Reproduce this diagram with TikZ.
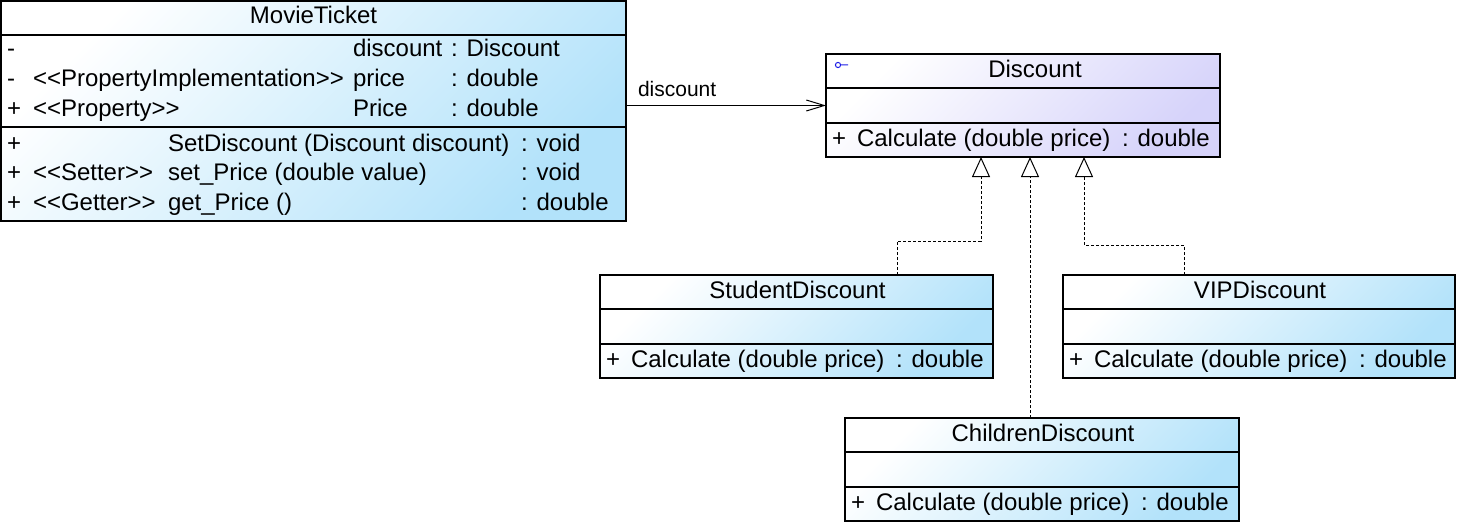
\documentclass[tikz,border=0pt]{standalone}
\usepackage{fontspec}
\setmainfont{Liberation Sans}[Ligatures=TeXOff]
\usetikzlibrary{arrows.meta,calc}
\definecolor{umlblue}{RGB}{178,226,250}
\definecolor{umllav}{RGB}{214,211,250}
\definecolor{iconblue}{RGB}{30,30,230}

% A small class box: name, x, y, width (px), title, fill colour, title x offset
\newcommand\umlclass[7]{%
  \node[cls, top color=white, bottom color=#6, shading angle=45,
        minimum width=#4*0.5pt, minimum height=51.5pt] (#1) at (#2,#3) {};
  \draw[sep] ($(#1.north west)+(0,34)$) -- ($(#1.north east)+(0,34)$);
  \draw[sep] ($(#1.north west)+(0,69)$) -- ($(#1.north east)+(0,69)$);
  \node[txt, anchor=base] (#1-title) at ($(#1.north)+(#7,23)$) {#5};
  \node[txt, anchor=base west] (#1-vis) at ($(#1.north west)+(6,92)$) {+};
  \node[txt, anchor=base west] (#1-op) at ($(#1.north west)+(31,92)$) {Calculate (double price)};
  \node[txt, anchor=base west] (#1-ret) at ($(#1.north west)+(296,92)$) {: double};
}

\begin{document}
\begin{tikzpicture}[x=0.5pt,y=-0.5pt,
  cls/.style={draw=black, line width=0.6pt, anchor=north west, inner sep=0pt, outer sep=0pt, rectangle},
  sep/.style={draw=black, line width=0.6pt},
  txt/.style={inner sep=0pt, outer sep=0pt, font=\fontsize{12}{14}\selectfont},
  lbl/.style={inner sep=0pt, outer sep=0pt, font=\fontsize{10.5}{12}\selectfont},
  assoc/.style={draw=black, line width=0.5pt, -{Straight Barb[length=9pt,width=5.5pt]}},
  real/.style={draw=black, line width=0.5pt, dash pattern=on 1.5pt off 1pt,
               -{Triangle[open, length=10pt, width=9pt, fill=white]}},
]
\useasboundingbox (0,0) rectangle (1459,524);

% MovieTicket class
\node[cls, top color=white, bottom color=umlblue, shading angle=45,
      minimum width=312.5pt, minimum height=110pt] (mt) at (1,1) {};
\draw[sep] ($(mt.north west)+(0,34)$) -- ($(mt.north east)+(0,34)$);
\draw[sep] ($(mt.north west)+(0,126)$) -- ($(mt.north east)+(0,126)$);
\node[txt, anchor=base] (mt-title) at ($(mt.north)+(0,23)$) {MovieTicket};

% attributes
\node[txt, anchor=base west] (mt-a1v) at ($(mt.north west)+(6,56)$) {-};
\node[txt, anchor=base west] (mt-a1n) at ($(mt.north west)+(352,56)$) {discount};
\node[txt, anchor=base west] (mt-a1t) at ($(mt.north west)+(450,56)$) {: Discount};

\node[txt, anchor=base west] (mt-a2v) at ($(mt.north west)+(6,85.5)$) {-};
\node[txt, anchor=base west] (mt-a2s) at ($(mt.north west)+(32,85.5)$) {<<PropertyImplementation>>};
\node[txt, anchor=base west] (mt-a2n) at ($(mt.north west)+(352,85.5)$) {price};
\node[txt, anchor=base west] (mt-a2t) at ($(mt.north west)+(450,85.5)$) {: double};

\node[txt, anchor=base west] (mt-a3v) at ($(mt.north west)+(6,115)$) {+};
\node[txt, anchor=base west] (mt-a3s) at ($(mt.north west)+(32,115)$) {<<Property>>};
\node[txt, anchor=base west] (mt-a3n) at ($(mt.north west)+(352,115)$) {Price};
\node[txt, anchor=base west] (mt-a3t) at ($(mt.north west)+(450,115)$) {: double};

% operations
\node[txt, anchor=base west] (mt-o1v) at ($(mt.north west)+(6,150)$) {+};
\node[txt, anchor=base west] (mt-o1n) at ($(mt.north west)+(167,150)$) {SetDiscount (Discount discount)};
\node[txt, anchor=base west] (mt-o1t) at ($(mt.north west)+(520,150)$) {: void};

\node[txt, anchor=base west] (mt-o2v) at ($(mt.north west)+(6,179.5)$) {+};
\node[txt, anchor=base west] (mt-o2s) at ($(mt.north west)+(32,179.5)$) {<<Setter>>};
\node[txt, anchor=base west] (mt-o2n) at ($(mt.north west)+(167,179.5)$) {set\_Price (double value)};
\node[txt, anchor=base west] (mt-o2t) at ($(mt.north west)+(520,179.5)$) {: void};

\node[txt, anchor=base west] (mt-o3v) at ($(mt.north west)+(6,209)$) {+};
\node[txt, anchor=base west] (mt-o3s) at ($(mt.north west)+(32,209)$) {<<Getter>>};
\node[txt, anchor=base west] (mt-o3n) at ($(mt.north west)+(167,209)$) {get\_Price ()};
\node[txt, anchor=base west] (mt-o3t) at ($(mt.north west)+(520,209)$) {: double};

% Discount interface and its implementations
\umlclass{disc}{826}{54}{394}{Discount}{umllav}{12}
\umlclass{stu}{600}{275}{393}{StudentDiscount}{umlblue}{1}
\umlclass{vip}{1063}{275}{392}{VIPDiscount}{umlblue}{1}
\umlclass{chi}{845}{418}{394}{ChildrenDiscount}{umlblue}{1}

% interface marker
\draw[iconblue, line width=0.5pt] ($(disc.north west)+(12,11)$) circle[radius=2.6]
      ($(disc.north west)+(14.6,11)$) -- ($(disc.north west)+(22,11)$);

% association
\draw[assoc] (mt.east |- disc.west) -- (disc.west)
  node[lbl, pos=0, anchor=base west, xshift=6pt, yshift=4.5pt] (assoc-lbl) {discount};

% realizations
\coordinate (s1) at ($(stu.north west)+(297,0)$);
\coordinate (d1) at ($(disc.south west)+(155,0)$);
\coordinate (v1) at ($(vip.north west)+(121,0)$);
\coordinate (d3) at ($(disc.south west)+(258,0)$);
\coordinate (c1) at ($(chi.north west)+(185,0)$);
\coordinate (d2) at ($(disc.south west)+(204,0)$);
\draw[real] (s1) -- ++(0,-34) -| (d1);
\draw[real] (v1) -- ++(0,-30) -| (d3);
\draw[real] (c1) -- (d2);
\end{tikzpicture}
\end{document}
